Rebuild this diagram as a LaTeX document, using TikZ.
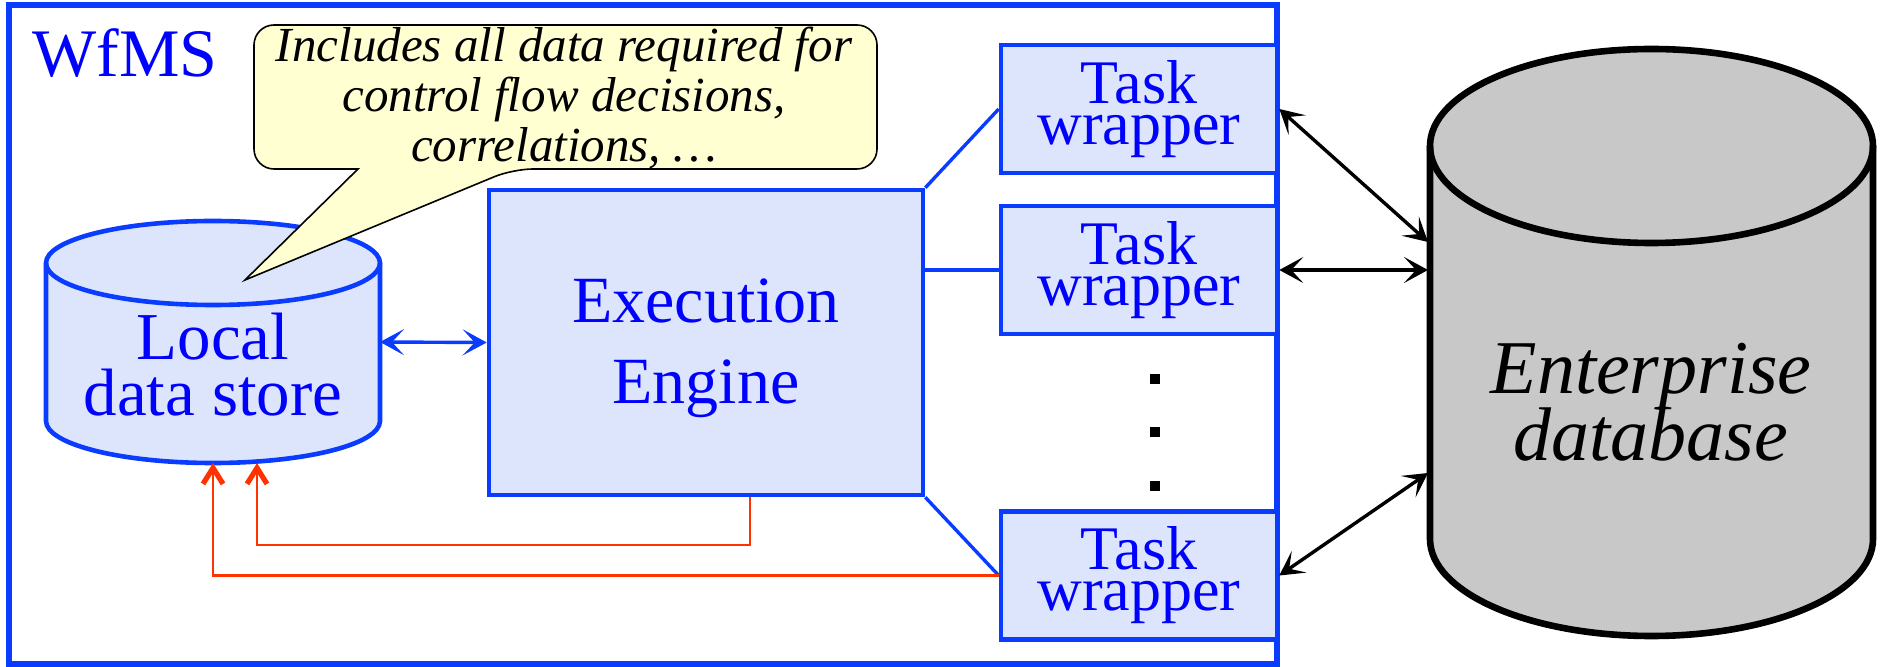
\documentclass[tikz,border=0pt]{standalone}
\usepackage{fontspec}
\setmainfont{Liberation Serif}
\usetikzlibrary{arrows.meta,calc}
\definecolor{bstroke}{RGB}{10,60,255}
\definecolor{btext}{RGB}{0,0,255}
\definecolor{bfill}{RGB}{221,229,252}
\definecolor{cfill}{RGB}{255,255,210}
\definecolor{dbfill}{RGB}{200,200,200}
\definecolor{rline}{RGB}{255,51,0}
\newcommand{\tightlines}{\lineskiplimit -100pt\relax}
\begin{document}
\begin{tikzpicture}[x=0.5pt,y=-0.5pt,
  frame/.style={draw=bstroke, line width=2.6pt, inner sep=0pt, minimum width=634pt, minimum height=329.5pt},
  taskbox/.style={draw=bstroke, fill=bfill, line width=2.3pt, minimum width=138pt, minimum height=64pt, inner sep=0pt, align=center, text=btext, font={\fontsize{31}{20.5}\selectfont\tightlines}},
  enginebox/.style={draw=bstroke, fill=bfill, line width=2.3pt, minimum width=217pt, minimum height=152.5pt, inner sep=0pt, align=center, text=btext, font={\fontsize{33}{40.5}\selectfont\tightlines}},
  ldsshape/.style={draw=bstroke, fill=bfill, line width=2.3pt},
  dbshape/.style={draw=black, fill=dbfill, line width=3.3pt},
  calloutshape/.style={draw=black, fill=cfill, line width=0.8pt},
  lbl/.style={inner sep=0pt, align=center},
  link/.style={draw=bstroke, line width=1.7pt},
  bdarrow/.style={draw=bstroke, line width=1.7pt, >={Stealth[length=12pt,width=13pt,inset=6pt]}, <->},
  karrow/.style={draw=black, line width=1.7pt, >={Stealth[length=12pt,width=13pt,inset=6pt]}, <->},
  redarr/.style={draw=rline, line width=1.1pt, arrows={-Straight Barb[length=8pt,width=10pt,line width=2.6pt]}},
  dot/.style={fill=black}
]
\useasboundingbox (0,0) rectangle (1883,667);

% WfMS frame
\node[frame] (wfms) at (643,334.5) {};
\node[anchor=base west, inner sep=0pt, text=btext, font={\fontsize{34}{40}\selectfont}] (title) at (32,77) {WfMS};

% Local data store cylinder
\filldraw[ldsshape] (46,263) -- (46,421) arc[start angle=180,end angle=360,x radius=83.5pt,y radius=21pt]
  -- (380,263) arc[start angle=0,end angle=180,x radius=83.5pt,y radius=21pt] -- cycle;
\draw[ldsshape, fill=none] (46,263) arc[start angle=180,end angle=360,x radius=83.5pt,y radius=21pt];
\node[lbl, text=btext, font={\fontsize{33.5}{28}\selectfont\tightlines}] (lds) at (213,365) {Local\\data store};
\coordinate (ldsE) at (380,342);
\coordinate (ldsB1) at (213,463);
\coordinate (ldsB2) at (257,463);

% callout
\filldraw[calloutshape] (600,25) [rounded corners=10pt] -- (877,25) -- (877,169) -- (513,169) [sharp corners] -- (245,280) -- (358,169) [rounded corners=10pt] -- (254,169) -- (254,25) -- cycle;
\node[lbl, font={\itshape\fontsize{24.5}{25}\selectfont\tightlines}] (note) at (564,98.5) {Includes all data required for\\control flow decisions,\\correlations, …};

% execution engine
\node[enginebox] (eng) at (706,342.5) {\rule{0pt}{28pt}Execution\\Engine};

% task wrappers
\node[taskbox] (t1) at (1139,109) {Task\\wrapper};
\node[taskbox] (t2) at (1139,270) {Task\\wrapper};
\node[taskbox] (t3) at (1139,575.5) {Task\\wrapper};

\draw[link] (eng.north east) -- (t1.west);
\draw[link] (eng.east |- t2.west) -- (t2.west);
\draw[link] (eng.south east) -- (t3.west);

% dots
\fill[dot] (1150,374) rectangle (1160,384);
\fill[dot] (1150,427) rectangle (1160,437);
\fill[dot] (1150,481) rectangle (1160,491);

% enterprise database
\filldraw[dbshape] (1430,146) -- (1430,539) arc[start angle=180,end angle=360,x radius=110.75pt,y radius=48.5pt]
  -- (1873,146) arc[start angle=0,end angle=180,x radius=110.75pt,y radius=48.5pt] -- cycle;
\draw[dbshape, fill=none] (1430,146) arc[start angle=180,end angle=360,x radius=110.75pt,y radius=48.5pt];
\node[lbl, font={\fontsize{38}{33.5}\selectfont\itshape\tightlines}] (db) at (1651,402.5) {Enterprise\\database};
\coordinate (db1) at (1428,242);
\coordinate (db2) at (1428,270);
\coordinate (db3) at (1428,473);

% connectors
\draw[bdarrow] (ldsE) -- (eng.west);
\draw[redarr] ([xshift=22pt]eng.south) -- ++(0,48) -| (ldsB2);
\draw[redarr] (t3.west) -| (ldsB1);
\draw[karrow] (t1.east) -- (db1);
\draw[karrow] (t2.east) -- (db2);
\draw[karrow] (t3.east) -- (db3);
\end{tikzpicture}
\end{document}
